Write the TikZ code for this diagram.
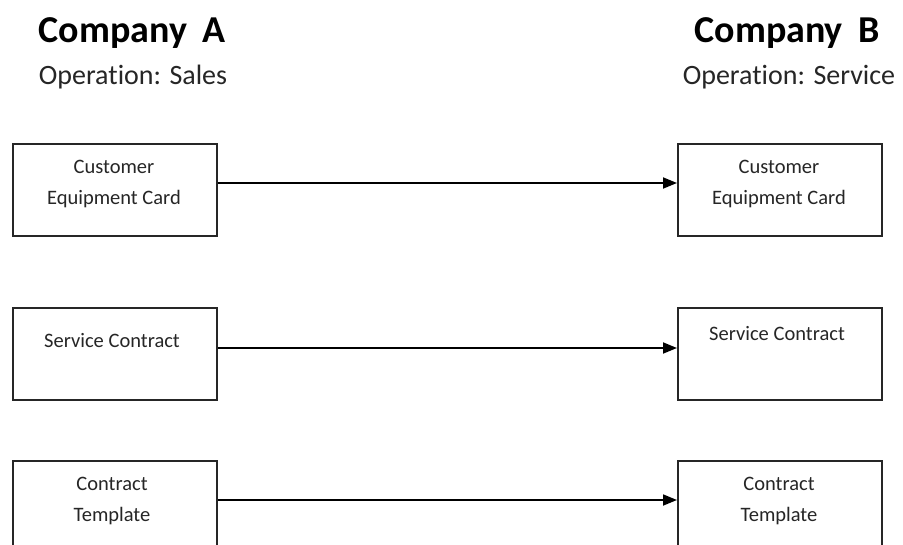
\documentclass[tikz,border=0pt]{standalone}
\usepackage{fontspec}
\setmainfont{Carlito}[Ligatures=NoCommon]
\usetikzlibrary{arrows.meta}
\tikzset{
  box/.style={draw=black!85, line width=1.8pt, minimum width=204pt, minimum height=92pt, inner sep=0pt, anchor=north west},
  boxtext/.style={font=\fontsize{20.5}{24}\selectfont, text=black!85, align=center, inner sep=0pt},
  title/.style={font=\fontsize{38}{40}\selectfont\bfseries, inner sep=0pt},
  subtitle/.style={font=\fontsize{28}{30}\selectfont, text=black!85, inner sep=0pt},
  arr/.style={line width=1.8pt, -{Triangle[length=14pt,width=11pt]}}
}
\begin{document}
\begin{tikzpicture}[x=1pt,y=1pt]
\clip (0,0) rectangle (903,-544);
\fill[white] (0,0) rectangle (903,-544);
% titles
\node[title] (ta) at (132,-33) {Company\hspace{0.4em}A};
\node[subtitle] (sa) at (133,-77) {Operation: Sales};
\node[title] (tb) at (787,-33) {Company\hspace{0.4em}B};
\node[subtitle] (sb) at (789,-77) {Operation: Service};
% boxes
\node[box] (a1) at (12,-143) {};
\node[box] (b1) at (677,-143) {};
\node[box] (a2) at (12,-307) {};
\node[box] (b2) at (677,-307) {};
\node[box] (a3) at (12,-460) {};
\node[box] (b3) at (677,-460) {};
% texts
\node[boxtext] (la1) at (114,-184) {Customer\\[7pt]Equipment Card};
\node[boxtext] (lb1) at (779,-184) {Customer\\[7pt]Equipment Card};
\node[boxtext] (la2) at (112,-341) {Service Contract};
\node[boxtext] (lb2) at (777,-334) {Service Contract};
\node[boxtext] (la3) at (112,-501) {Contract\\[7pt]Template};
\node[boxtext] (lb3) at (779,-501) {Contract\\[7pt]Template};
% arrows
\coordinate (y1) at (0,-183);
\coordinate (y2) at (0,-348);
\coordinate (y3) at (0,-500);
\draw[arr] (a1.east |- y1) -- (b1.west |- y1);
\draw[arr] (a2.east |- y2) -- (b2.west |- y2);
\draw[arr] (a3.east |- y3) -- (b3.west |- y3);
\end{tikzpicture}
\end{document}
